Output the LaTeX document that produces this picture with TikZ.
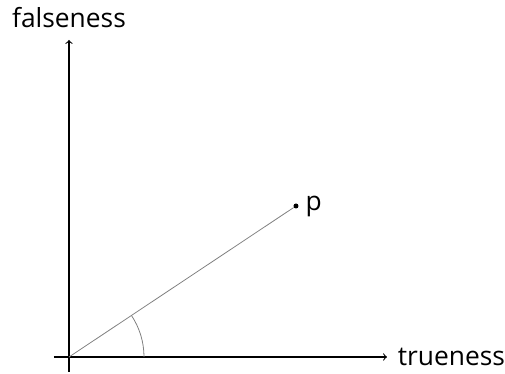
\documentclass[tikz,border=0pt]{standalone}
\usepackage{fontspec}
\setmainfont{Open Sans}
\usetikzlibrary{positioning}
\definecolor{raygray}{RGB}{128,128,128}

\begin{document}
\begin{tikzpicture}[x=0.02cm, y=0.02cm,
    axislabel/.style={inner sep=0pt, font=\fontsize{15}{18}\selectfont},
    axisline/.style={->, line width=0.6pt},
    dot/.style={circle, fill=black, inner sep=0pt, minimum size=0.1cm},
    ray/.style={raygray, line width=0.45pt}]
            \useasboundingbox (-69,-17) rectangle (436,357);
            \coordinate (O) at (0,0);
            \coordinate (xstart) at (-15,0);
            \coordinate (xtip) at (318,0);
            \coordinate (ystart) at (0,-15);
            \coordinate (ytip) at (0,317);
            \coordinate (arcstart) at (75,0);
            \node[dot] (p) at (227,151) {};
            \node[axislabel, right=0.13cm of p] (plabel) {p};
            \node[axislabel, right=0.21cm of xtip] (trueness) {trueness};
            \node[axislabel, above=0.24cm of ytip] (falseness) {falseness};
            \draw[axisline] (xstart) -- (xtip);
            \draw[axisline] (ystart) -- (ytip);
            \draw[ray] (O) -- (p);
            \draw[ray] (arcstart) arc (0:33.7:75);
        \end{tikzpicture}
\end{document}
